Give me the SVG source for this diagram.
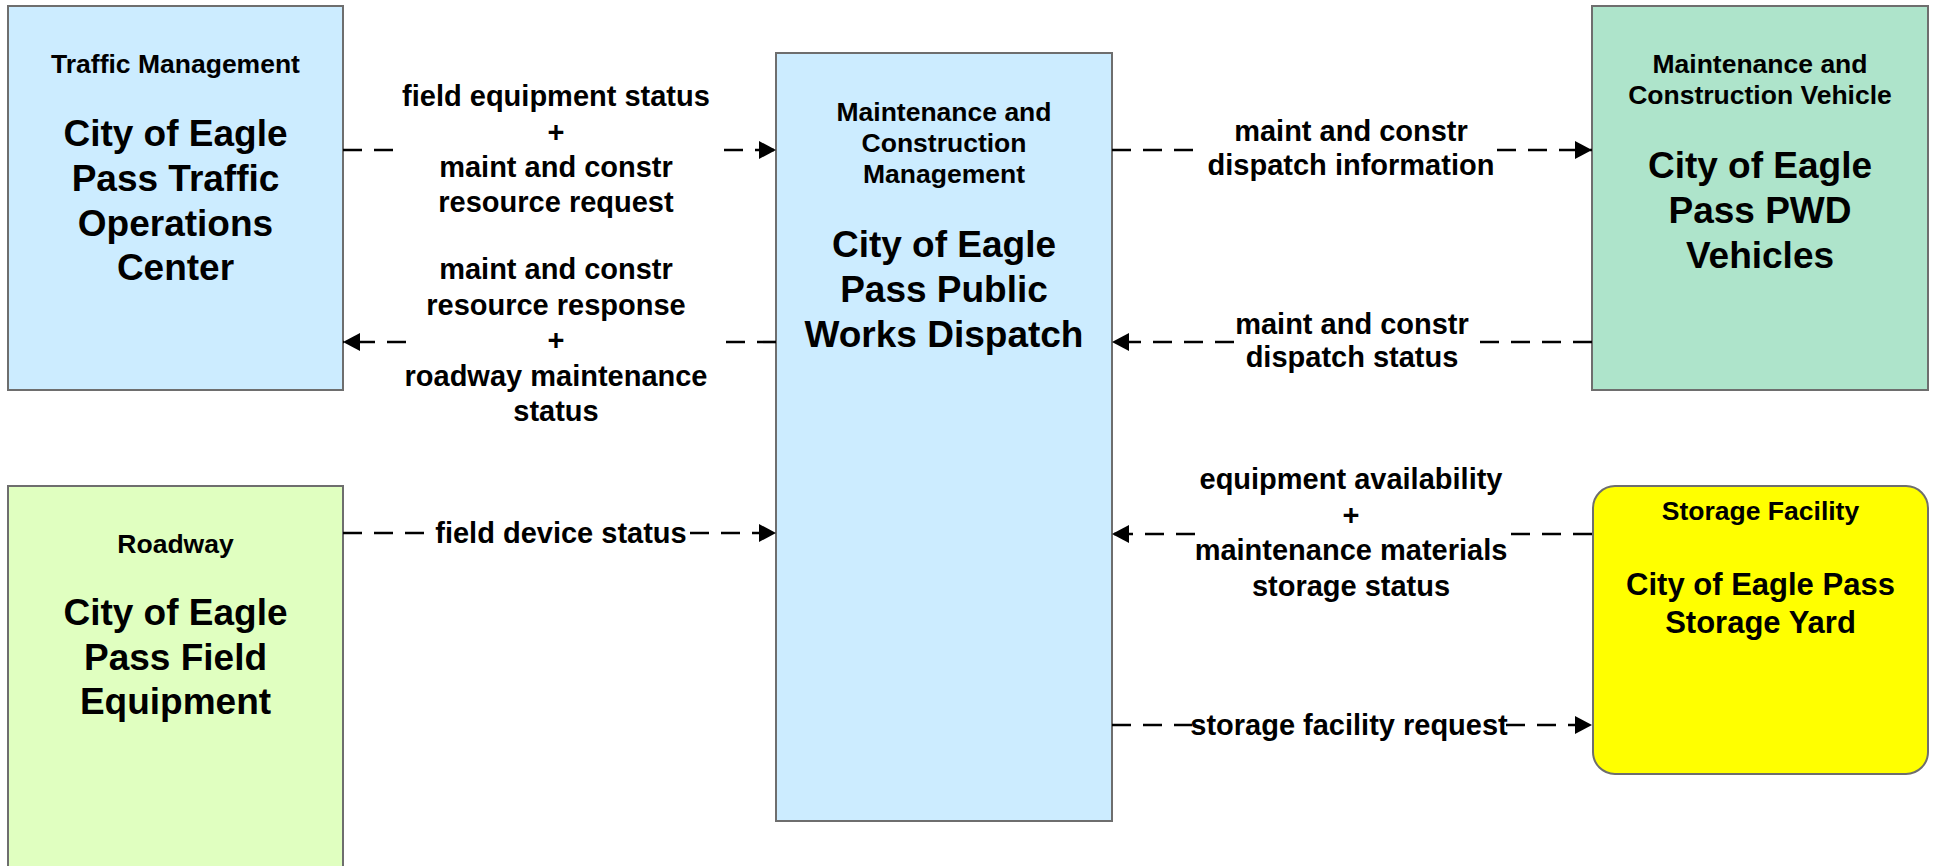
<svg xmlns="http://www.w3.org/2000/svg" width="1937" height="866" viewBox="0 0 1937 866">
<style>
text{font-family:"Liberation Sans",Arial,sans-serif;font-weight:bold;fill:#000;text-anchor:middle}
.sub{font-size:26.5px}
.ttl{font-size:37px}
.ttl2{font-size:31px}
.lbl{font-size:29px}
.box{stroke:#6e6e6e;stroke-width:2}
.con{fill:none;stroke:#000;stroke-width:2.6;stroke-dasharray:19 12}
</style>
<defs>
<marker id="arr" markerUnits="userSpaceOnUse" markerWidth="18" markerHeight="18" refX="17" refY="9" orient="auto">
<path d="M0,0 L17,9 L0,18 z" fill="#000"/>
</marker>
</defs>
<rect width="1937" height="866" fill="#fff"/>
<g id="traffic">
<rect class="box" x="8" y="6" width="335" height="384" fill="#CCECFF"/>
<text class="sub" x="175.5" y="73">Traffic Management</text>
<text class="ttl" x="175.5" y="146">City of Eagle</text>
<text class="ttl" x="175.5" y="191">Pass Traffic</text>
<text class="ttl" x="175.5" y="236">Operations</text>
<text class="ttl" x="175.5" y="280">Center</text>
</g>
<g id="dispatch">
<rect class="box" x="776" y="53" width="336" height="768" fill="#CCECFF"/>
<text class="sub" x="944" y="121">Maintenance and</text>
<text class="sub" x="944" y="152">Construction</text>
<text class="sub" x="944" y="183">Management</text>
<text class="ttl" x="944" y="257">City of Eagle</text>
<text class="ttl" x="944" y="302">Pass Public</text>
<text class="ttl" x="944" y="347">Works Dispatch</text>
</g>
<g id="vehicles">
<rect class="box" x="1592" y="6" width="336" height="384" fill="#AEE4CB"/>
<text class="sub" x="1760" y="73">Maintenance and</text>
<text class="sub" x="1760" y="104">Construction Vehicle</text>
<text class="ttl" x="1760" y="178">City of Eagle</text>
<text class="ttl" x="1760" y="223">Pass PWD</text>
<text class="ttl" x="1760" y="268">Vehicles</text>
</g>
<g id="roadway">
<rect class="box" x="8" y="486" width="335" height="400" fill="#E0FFC0"/>
<text class="sub" x="175.5" y="553">Roadway</text>
<text class="ttl" x="175.5" y="625">City of Eagle</text>
<text class="ttl" x="175.5" y="670">Pass Field</text>
<text class="ttl" x="175.5" y="714">Equipment</text>
</g>
<g id="storage">
<rect class="box" x="1593" y="486" width="335" height="288" rx="22" ry="22" fill="#FFFF00"/>
<text class="sub" x="1760.5" y="520">Storage Facility</text>
<text class="ttl2" x="1760.5" y="595">City of Eagle Pass</text>
<text class="ttl2" x="1760.5" y="633">Storage Yard</text>
</g>
<g id="connectors">
<path class="con" d="M343,150 H398"/>
<path class="con" d="M724,150 H776" marker-end="url(#arr)"/>
<path class="con" d="M776,342 H722"/>
<path class="con" d="M406,342 H343" marker-end="url(#arr)"/>
<path class="con" d="M1112,150 H1194"/>
<path class="con" d="M1497,150 H1592" marker-end="url(#arr)"/>
<path class="con" d="M1592,342 H1476"/>
<path class="con" d="M1234,342 H1112" marker-end="url(#arr)"/>
<path class="con" d="M343,533 H432"/>
<path class="con" d="M690,533 H776" marker-end="url(#arr)"/>
<path class="con" d="M1592,534 H1510"/>
<path class="con" d="M1195,534 H1112" marker-end="url(#arr)"/>
<path class="con" d="M1112,725 H1192"/>
<path class="con" d="M1506,725 H1592" marker-end="url(#arr)"/>
</g>
<g id="labels">
<text class="lbl" x="556" y="106">field equipment status</text>
<text class="lbl" x="556" y="141.5">+</text>
<text class="lbl" x="556" y="177">maint and constr</text>
<text class="lbl" x="556" y="212">resource request</text>
<text class="lbl" x="556" y="279">maint and constr</text>
<text class="lbl" x="556" y="314.5">resource response</text>
<text class="lbl" x="556" y="350">+</text>
<text class="lbl" x="556" y="385.5">roadway maintenance</text>
<text class="lbl" x="556" y="421">status</text>
<text class="lbl" x="1351" y="141">maint and constr</text>
<text class="lbl" x="1351" y="175">dispatch information</text>
<text class="lbl" x="1352" y="334">maint and constr</text>
<text class="lbl" x="1352" y="367">dispatch status</text>
<text class="lbl" x="561" y="543">field device status</text>
<text class="lbl" x="1351" y="489">equipment availability</text>
<text class="lbl" x="1351" y="524.5">+</text>
<text class="lbl" x="1351" y="560">maintenance materials</text>
<text class="lbl" x="1351" y="595.5">storage status</text>
<text class="lbl" x="1349" y="735">storage facility request</text>
</g>
</svg>
